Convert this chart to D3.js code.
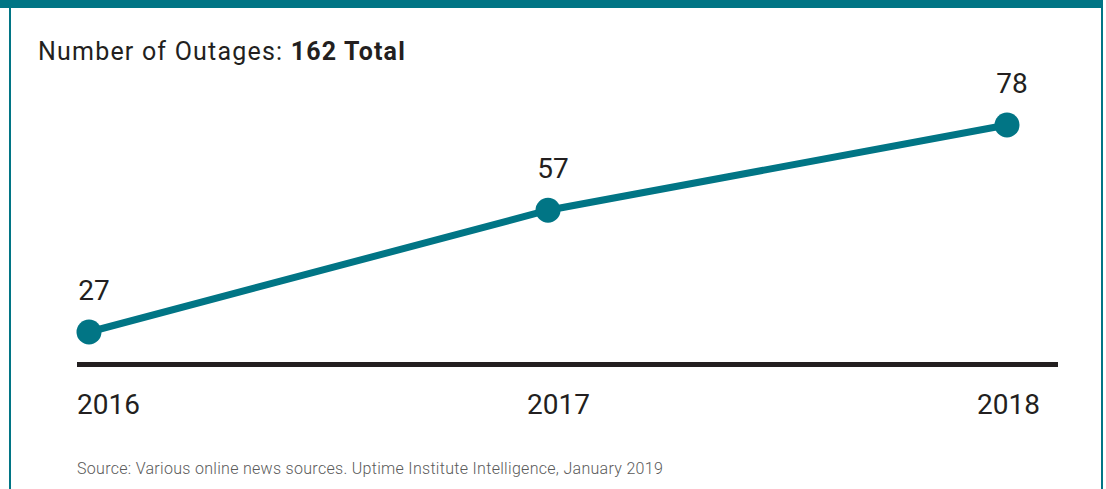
<!DOCTYPE html>
<html>
<head>
<meta charset="utf-8">
<script src="https://cdn.jsdelivr.net/npm/d3@7"></script>
<style>
  body { margin: 0; background: #fff; }
  text { font-family: Roboto, "Noto Sans", sans-serif; }
</style>
</head>
<body>
<div id="chart"></div>
<script>
// data
let years = ["2016", "2017", "2018"]
let outages = [27, 57, 78]
let titleText = "Number of Outages: "
let titleBold = "162 Total"
let sourceText = "Source: Various online news sources. Uptime Institute Intelligence, January 2019"

let width = 1106
let height = 489
let teal = "#017585"
let dark = "#231f20"

let svg = d3.select("#chart")
    .append("svg")
    .attr("width", width)
    .attr("height", height)

// frame
svg.append("rect")
    .attr("x", 10).attr("y", 0)
    .attr("width", 1092).attr("height", height + 10)
    .attr("fill", "none")
    .attr("stroke", teal)
    .attr("stroke-width", 2)
svg.append("rect")
    .attr("x", 0).attr("y", 0)
    .attr("width", 1103).attr("height", 8)
    .attr("fill", teal)

// title
let title = svg.append("text")
    .attr("x", 38)
    .attr("y", 60)
    .attr("fill", dark)
    .style("font-size", "25px")
    .style("letter-spacing", "1.2px")
title.append("tspan").text(titleText)
title.append("tspan").style("font-weight", "bold").text(titleBold)

// scales
let x = d3.scalePoint()
    .domain(years)
    .range([89, 1007])
let xLabel = d3.scalePoint()
    .domain(years)
    .range([77, 977])
let y = d3.scaleLinear()
    .domain([27, 78])
    .range([332, 125])

let data = years.map((yr, i) => ({ year: yr, value: outages[i] }))

// baseline
svg.append("line")
    .attr("x1", 77).attr("x2", 1058)
    .attr("y1", 364.5).attr("y2", 364.5)
    .attr("stroke", dark)
    .attr("stroke-width", 5)

// year labels
svg.selectAll(".yearLabel")
    .data(years)
    .enter()
    .append("text")
    .attr("class", "yearLabel")
    .attr("x", d => xLabel(d))
    .attr("y", 414)
    .attr("fill", dark)
    .style("font-size", "28px")
    .text(d => d)

// line
let line = d3.line()
    .x(d => x(d.year))
    .y(d => y(d.value))

svg.append("path")
    .datum(data)
    .attr("d", line)
    .attr("fill", "none")
    .attr("stroke", teal)
    .attr("stroke-width", 7)

svg.selectAll(".dot")
    .data(data)
    .enter()
    .append("circle")
    .attr("class", "dot")
    .attr("cx", d => x(d.year))
    .attr("cy", d => y(d.value))
    .attr("r", 12.5)
    .attr("fill", teal)

// value labels
svg.selectAll(".valLabel")
    .data(data)
    .enter()
    .append("text")
    .attr("class", "valLabel")
    .attr("x", d => x(d.year) + 5)
    .attr("y", d => y(d.value) - 32)
    .attr("text-anchor", "middle")
    .attr("fill", dark)
    .style("font-size", "28px")
    .text(d => d.value)

// source
svg.append("text")
    .attr("x", 77)
    .attr("y", 474)
    .attr("fill", "#5a5a5a")
    .style("font-size", "16px")
    .style("font-weight", 300)
    .style("letter-spacing", "0.3px")
    .text(sourceText)
</script>
</body>
</html>
